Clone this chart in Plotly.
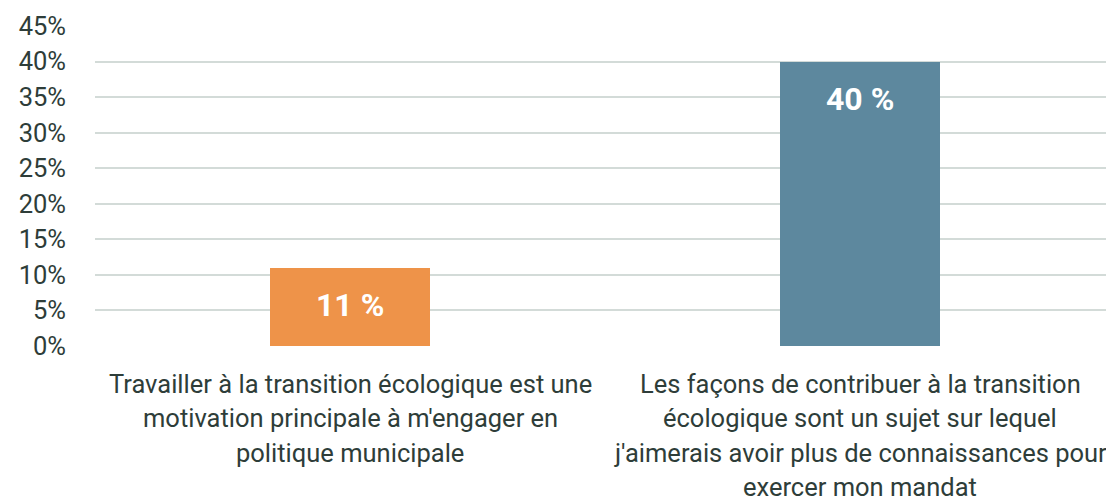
import plotly.graph_objects as go

categories = [
    "Travailler à la transition écologique est une<br>motivation principale à m'engager en<br>politique municipale",
    "Les façons de contribuer à la transition<br>écologique sont un sujet sur lequel<br>j'aimerais avoir plus de connaissances pour<br>exercer mon mandat",
]
values = [11, 40]
bar_labels = ["11 %", "40 %"]
colors = ["#EE9349", "#5D889E"]
y_ticks = [0, 5, 10, 15, 20, 25, 30, 35, 40, 45]

text_color = "#2E3D39"
font_family = "Roboto, sans-serif"

x_idx = list(range(len(categories)))

fig = go.Figure()
fig.add_trace(go.Bar(
    x=x_idx, y=values, marker_color=colors, width=0.314,
    marker_line_width=0, hoverinfo="skip",
))

# bar value labels
for i, (v, lab) in enumerate(zip(values, bar_labels)):
    fig.add_annotation(
        x=i, y=v, xref="x", yref="y", text=f"<b>{lab}</b>", showarrow=False,
        yanchor="middle", yshift=-37,
        font=dict(family=font_family, size=32, color="white"),
    )

# category labels, one annotation per line
for i, cat in enumerate(categories):
    for j, line in enumerate(cat.split("<br>")):
        fig.add_annotation(
            x=i, y=0, xref="x", yref="y", text=line, showarrow=False,
            yanchor="middle", yshift=-38 - j * 34.3,
            font=dict(family=font_family, size=25.5, color=text_color),
        )

fig.update_layout(
    width=1106, height=502,
    margin=dict(l=95, r=0, t=26, b=156),
    paper_bgcolor="white", plot_bgcolor="white",
    showlegend=False,
    bargap=0,
)
fig.update_xaxes(
    range=[-0.5, 1.482], showticklabels=False, showgrid=False,
    zeroline=False, showline=False, fixedrange=True,
)
fig.update_yaxes(
    range=[0, 45], tickvals=y_ticks, ticktext=[f"{t}%" for t in y_ticks],
    showgrid=True, gridcolor="#D3DBD8", gridwidth=2,
    zeroline=False, showline=False, ticks="", ticklabelstandoff=28,
    tickfont=dict(family=font_family, size=25.5, color=text_color),
    fixedrange=True,
)

fig.write_html("out.html", config={"displayModeBar": False},
               post_script="document.body.style.margin='0';")
